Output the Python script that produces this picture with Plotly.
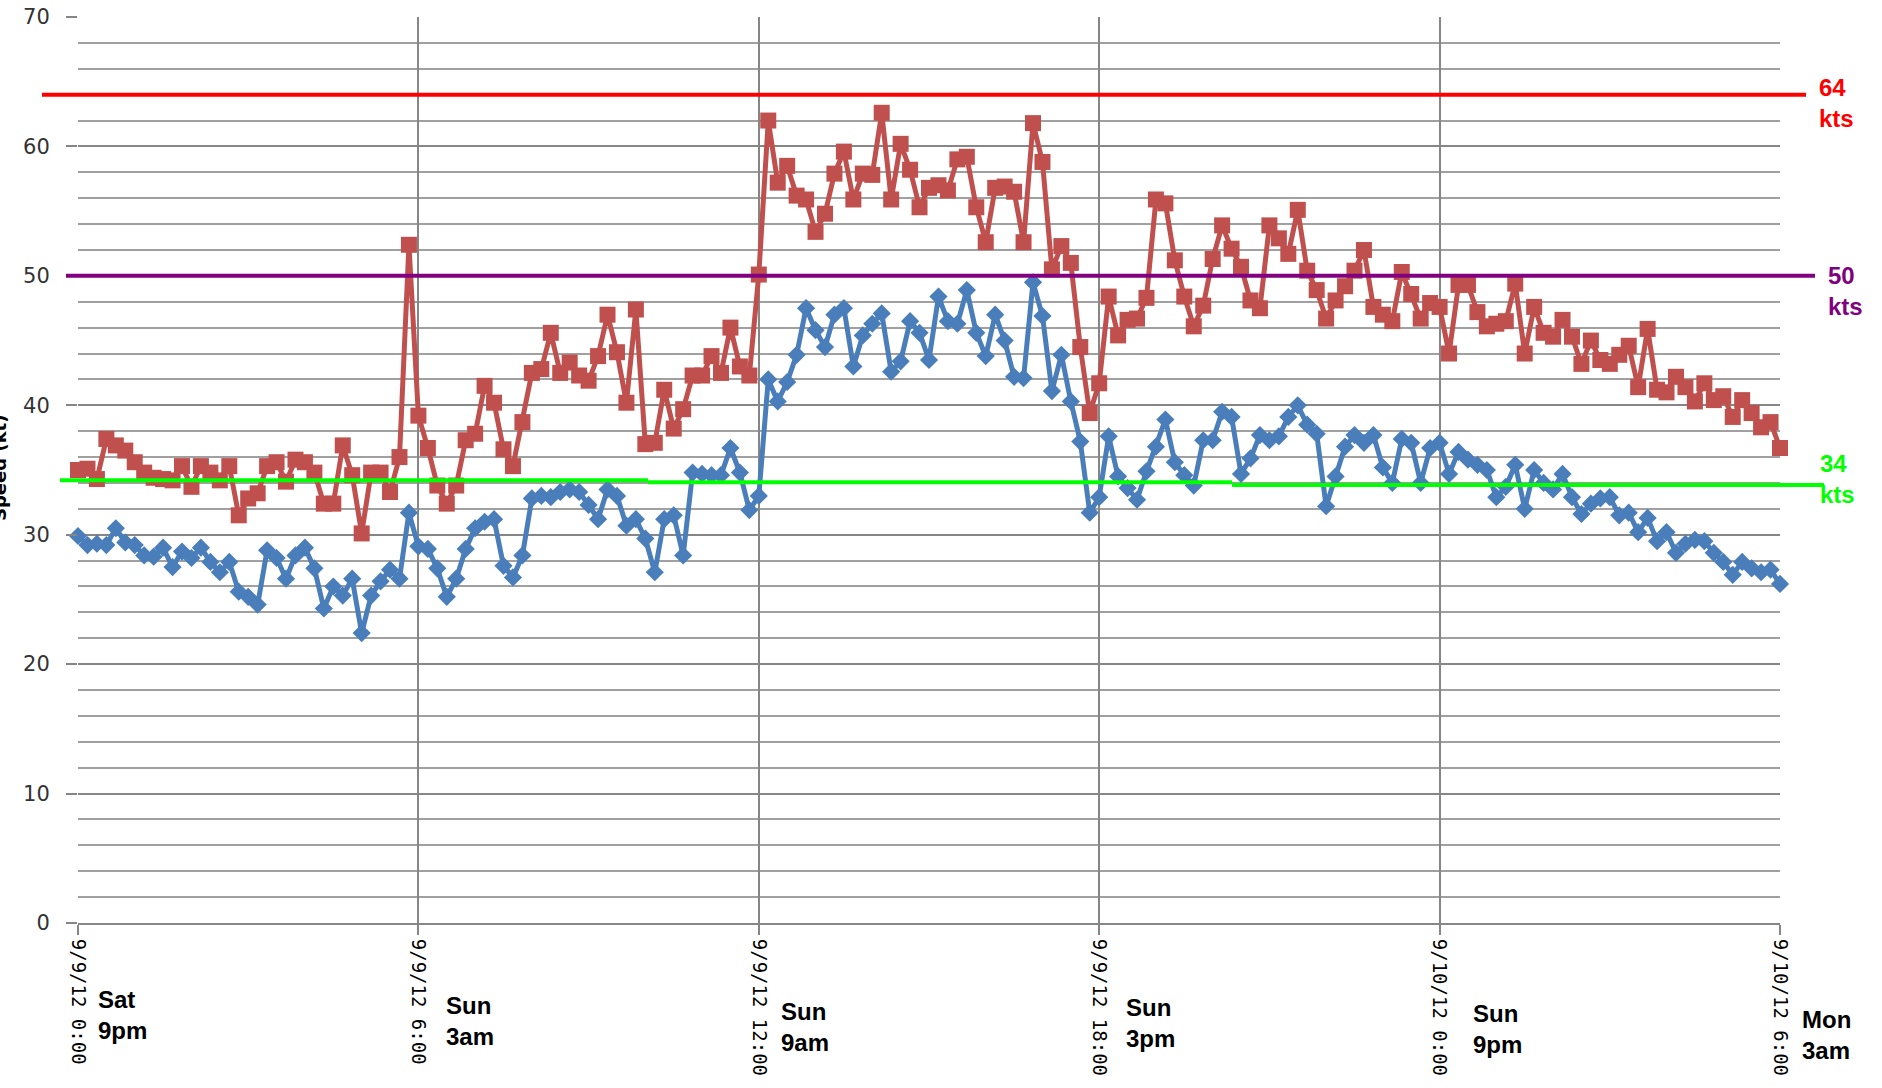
import plotly.graph_objects as go
import pandas as pd

# ---------------- data ----------------
START = "2012-09-09 00:00"
STEP = "10min"

GUST = [
    35.0, 35.1, 34.3, 37.4, 36.9, 36.5, 35.6, 34.8, 34.4, 34.3,
    34.2, 35.3, 33.7, 35.3, 34.8, 34.2, 35.3, 31.5, 32.8, 33.2,
    35.3, 35.6, 34.1, 35.8, 35.6, 34.8, 32.4, 32.4, 36.9, 34.6,
    30.1, 34.8, 34.8, 33.3, 36.0, 52.4, 39.2,
    36.7, 33.8, 32.4, 33.8, 37.3, 37.8, 41.5, 40.2, 36.6, 35.3,
    38.7, 42.5, 42.8, 45.6, 42.5, 43.3, 42.3, 41.9, 43.8, 47.0,
    44.1, 40.2, 47.4, 37.0, 37.1, 41.2, 38.2, 39.7, 42.3, 42.3,
    43.8, 42.5, 46.0, 43.0, 42.3, 50.1,
    62.0, 57.2, 58.5, 56.2, 55.9, 53.4, 54.8, 57.9, 59.6, 55.9,
    57.9, 57.8, 62.6, 55.9, 60.2, 58.2, 55.3, 56.8, 57.0, 56.6,
    59.0, 59.2, 55.3, 52.6, 56.8, 56.9, 56.5, 52.6, 61.8, 58.8,
    50.5, 52.3, 51.0, 44.5, 39.4, 41.7,
    48.4, 45.4, 46.6, 46.7, 48.3, 55.9, 55.6, 51.2, 48.4, 46.1,
    47.7, 51.3, 53.9, 52.1, 50.7, 48.1, 47.5, 53.9, 52.9, 51.7,
    55.1, 50.4, 48.9, 46.7, 48.1, 49.2, 50.4, 52.0, 47.6, 47.0,
    46.5, 50.3, 48.6, 46.7, 47.9, 47.6,
    44.0, 49.3, 49.3, 47.2, 46.1, 46.3, 46.5, 49.4, 44.0, 47.6,
    45.6, 45.3, 46.6, 45.3, 43.2, 45.0, 43.5, 43.2, 43.9, 44.6,
    41.4, 45.9, 41.2, 41.0, 42.2, 41.4, 40.3, 41.7, 40.4, 40.7,
    39.1, 40.4, 39.4, 38.3, 38.7, 36.7,
]

SUSTAINED = [
    29.9, 29.2, 29.3, 29.2, 30.5, 29.4, 29.2, 28.4, 28.3, 29.0,
    27.5, 28.7, 28.2, 29.0, 27.9, 27.1, 27.9, 25.6, 25.2, 24.6,
    28.8, 28.2, 26.6, 28.4, 29.0, 27.4, 24.3, 26.0, 25.3, 26.6,
    22.4, 25.3, 26.4, 27.3, 26.6, 31.7, 29.1,
    28.9, 27.4, 25.2, 26.6, 28.9, 30.5, 31.0, 31.2, 27.6, 26.7,
    28.4, 32.8, 33.0, 32.9, 33.3, 33.5, 33.3, 32.3, 31.2, 33.5,
    33.0, 30.7, 31.2, 29.7, 27.1, 31.2, 31.5, 28.4, 34.8, 34.7,
    34.6, 34.6, 36.7, 34.8, 31.9, 33.0,
    42.0, 40.3, 41.8, 43.9, 47.5, 45.8, 44.5, 47.0, 47.5, 43.0,
    45.4, 46.3, 47.1, 42.6, 43.4, 46.5, 45.6, 43.5, 48.4, 46.5,
    46.3, 48.9, 45.6, 43.8, 47.0, 45.0, 42.2, 42.1, 49.5, 46.9,
    41.1, 43.9, 40.3, 37.2, 31.7, 32.9,
    37.6, 34.5, 33.6, 32.7, 34.9, 36.8, 38.9, 35.6, 34.6, 33.8,
    37.3, 37.3, 39.5, 39.1, 34.7, 35.9, 37.7, 37.3, 37.6, 39.1,
    40.0, 38.5, 37.8, 32.2, 34.5, 36.8, 37.7, 37.1, 37.7, 35.2,
    34.0, 37.4, 37.1, 34.0, 36.7, 37.1,
    34.7, 36.4, 35.8, 35.4, 35.0, 32.9, 33.7, 35.4, 32.0, 35.0,
    34.0, 33.5, 34.7, 32.9, 31.6, 32.4, 32.8, 32.9, 31.5, 31.7,
    30.2, 31.3, 29.5, 30.2, 28.6, 29.3, 29.6, 29.5, 28.6, 27.9,
    26.9, 27.9, 27.4, 27.1, 27.3, 26.2,
]

TICK_TIMES = ["2012-09-09 00:00", "2012-09-09 06:00", "2012-09-09 12:00",
              "2012-09-09 18:00", "2012-09-10 00:00", "2012-09-10 06:00"]
TICK_TEXT = ["9/9/12 0:00", "9/9/12 6:00", "9/9/12 12:00",
             "9/9/12 18:00", "9/10/12 0:00", "9/10/12 6:00"]
LOCAL_LABELS = ["Sat<br>9pm", "Sun<br>3am", "Sun<br>9am",
                "Sun<br>3pm", "Sun<br>9pm", "Mon<br>3am"]

HURRICANE = 64
STORM = 50
GALE_STEPS = [34.2, 34.05, 33.85]
THRESH_TEXT = ["64<br>kts", "50<br>kts", "34<br>kts"]

Y_TITLE = "Speed (kt)"

# ---------------- layout helpers ----------------
W, H = 1882, 1088
L, R, T, B = 78, 102, 17, 165
PW = W - L - R
PH = H - T - B


def px(p):
    return (p - L) / PW


def py(p):
    return (T + PH - p) / PH


times = pd.date_range(START, periods=len(GUST), freq=STEP)

RED = "#C0504D"
BLUE = "#4A7EBB"
GRID = "#868686"

fig = go.Figure()
fig.add_trace(go.Scatter(
    x=times, y=GUST, mode="lines+markers", name="Gust",
    line=dict(color=RED, width=5),
    marker=dict(symbol="square", size=16, color=RED),
    cliponaxis=False, showlegend=False))
fig.add_trace(go.Scatter(
    x=times, y=SUSTAINED, mode="lines+markers", name="Sustained",
    line=dict(color=BLUE, width=5),
    marker=dict(symbol="diamond", size=14, color=BLUE),
    cliponaxis=False, showlegend=False))

shapes = []
shapes.append(dict(type="line", xref="paper", yref="y", x0=px(42), x1=px(1806),
                   y0=HURRICANE, y1=HURRICANE, line=dict(color="#FF0000", width=4), layer="above"))
shapes.append(dict(type="line", xref="paper", yref="y", x0=px(66), x1=px(1815),
                   y0=STORM, y1=STORM, line=dict(color="#800080", width=4), layer="above"))
g_edges = [60, 648, 1232, 1824]
for k, gv in enumerate(GALE_STEPS):
    shapes.append(dict(type="line", xref="paper", yref="y", x0=px(g_edges[k]), x1=px(g_edges[k + 1]),
                       y0=gv, y1=gv, line=dict(color="#00FF00", width=4), layer="above"))

annotations = []
label_shift = [18, 26, 20, 25, 31, 20]
label_y = [1015, 1021, 1027, 1023, 1029, 1035]
for t, txt, sh, yy in zip(TICK_TIMES, LOCAL_LABELS, label_shift, label_y):
    annotations.append(dict(
        x=t, xref="x", xshift=sh, y=py(yy), yref="paper", xanchor="left", yanchor="middle",
        text="<b>" + txt + "</b>", showarrow=False, align="left",
        font=dict(family="Liberation Sans Narrow, Liberation Sans, Arial", size=24, color="black")))

th_colors = ["#FF0000", "#800080", "#00FF00"]
th_x = [1817, 1826, 1818]
th_y = [103, 291, 479]
for txt, c, xx, yy in zip(THRESH_TEXT, th_colors, th_x, th_y):
    annotations.append(dict(
        x=px(xx), xref="paper", y=py(yy), yref="paper", xanchor="left", yanchor="middle",
        text="<b>" + txt + "</b>", showarrow=False, align="left",
        font=dict(family="Liberation Sans, Arial", size=24, color=c)))

annotations.append(dict(
    x=px(-1), xref="paper", y=py(468), yref="paper", xanchor="center", yanchor="middle",
    text="<b>" + Y_TITLE + "</b>", textangle=-90, showarrow=False,
    font=dict(family="DejaVu Sans", size=18, color="black")))

fig.update_layout(
    width=W, height=H,
    margin=dict(l=L, r=R, t=T, b=B, pad=0, autoexpand=False),
    paper_bgcolor="white", plot_bgcolor="white",
    shapes=shapes, annotations=annotations,
    xaxis=dict(
        type="date", range=[TICK_TIMES[0], TICK_TIMES[-1]], automargin=False,
        tickmode="array", tickvals=TICK_TIMES, ticktext=TICK_TEXT,
        tickangle=90, ticks="outside", ticklen=10, tickwidth=1.5, tickcolor=GRID,
        showgrid=True, gridcolor=GRID, gridwidth=1.8,
        showline=True, linecolor=GRID, linewidth=2, zeroline=False,
        tickfont=dict(family="DejaVu Sans Mono", size=19, color="black"),
    ),
    yaxis=dict(
        range=[0, 70], tick0=0, dtick=10, automargin=False,
        ticks="outside", ticklen=11, tickwidth=1.5, tickcolor=GRID,
        showgrid=True, gridcolor=GRID, gridwidth=2,
        minor=dict(dtick=2, showgrid=True, gridcolor="#A0A0A0", gridwidth=1.6, ticks=""),
        showline=False, zeroline=False, ticklabelstandoff=12,
        tickfont=dict(family="DejaVu Sans", size=21, color="#333333"),
    ),
)

fig.write_html("out.html", config={"displayModeBar": False},
               post_script="document.body.style.margin='0';document.body.style.padding='0';")
